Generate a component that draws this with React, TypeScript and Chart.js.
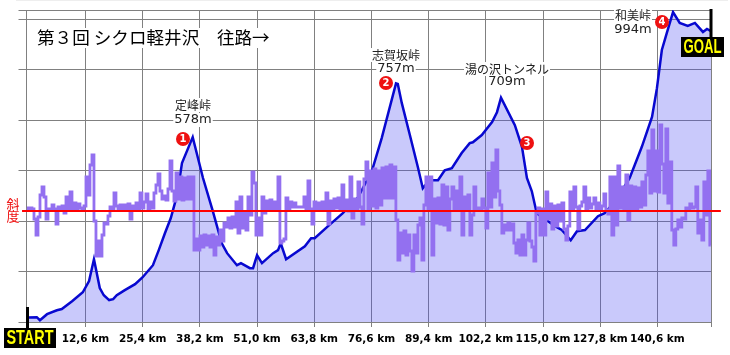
import React, { useEffect, useRef } from "react";
import { Chart, registerables } from "chart.js";

Chart.register(...registerables);

const title = "第３回 シクロ軽井沢　往路→";
const slopeAxisLabel = ["斜", "度"];
const kmTicks = [-0.6, 12.6, 25.4, 38.2, 51.0, 63.8, 76.6, 89.4, 102.2, 115.0, 127.8, 140.6, 152.6];
const kmMin = -0.6;
const kmMax = 152.6;

const elevationKm = [
  -0.3, 1.7, 2.4, 4.0, 6.2, 7.3, 9.6, 12.0, 13.4, 14.5, 15.8, 16.7, 17.9, 18.8, 19.6, 21.4, 23.7, 25.4, 27.7, 29.0,
  30.4, 31.7, 33.1, 34.2, 36.6, 38.9, 41.1, 43.1, 44.3, 46.5, 47.4, 49.4, 50.1, 51.0, 52.1, 54.6, 55.7, 56.3, 57.5,
  61.7, 63.1, 63.9, 66.9, 70.2, 73.6, 76.7, 78.9, 82.1, 82.5, 83.4, 85.2, 87.0, 88.1, 89.2, 90.4, 91.5, 93.0, 94.6,
  96.8, 98.6, 99.3, 101.3, 103.6, 104.7, 105.6, 108.7, 110.3, 111.4, 112.5, 113.6, 117.7, 119.2, 121.2, 122.6, 124.4,
  127.3, 128.8, 130.4, 132.6, 134.4, 137.1, 139.4, 140.5, 141.6, 142.7, 144.1, 145.6, 147.4, 149.0, 150.8, 151.7, 152.6,
];
const elevationM = [
  -22, -21, -31, -11, 2, 6, 32, 62, 99, 172, 76, 52, 36, 39, 52, 69, 89, 112, 152, 202,
  259, 309, 385, 492, 578, 442, 332, 225, 192, 152, 159, 142, 142, 185, 159, 192, 202, 225, 172,
  215, 242, 242, 282, 325, 378, 465, 575, 757, 755, 691, 585, 478, 408, 428, 435, 435, 468, 475,
  525, 558, 561, 585, 628, 661, 709, 618, 545, 442, 398, 325, 282, 269, 235, 265, 269,
  315, 325, 352, 398, 442, 545, 645, 741, 868, 924, 994, 958, 948, 958, 928, 938, 931,
];

const slopeStartKm = -0.49;
const slopeStepKm = 0.4475;
const slopePct = [
  0.3, 0.1, 0.3, 0.2, -0.8, -2.4, -0.6, 1.6, 2.4, 1.4,
  -0.8, 0.2, 0.1, 0.6, 0.2, -1.3, 0.4, 0.1, 0.5, -0.2,
  1.4, 0.1, 1.9, 0.2, 0.8, 0.1, 0.7, 0.3, 0.1, 0.5,
  3.4, 1.6, 4.6, 5.6, -1.0, -4.5, -3.0, -4.5, -2.4, -1.2,
  -1.3, -0.5, 0.4, 0.2, 1.8, 0.5, 0.1, 0.6, 0.1, 0.6,
  0.2, 0.7, -0.8, 0.5, 0.1, 0.8, 0.2, 1.8, 0.3, 0.9,
  1.7, 0.1, 0.9, 0.3, 1.8, 2.6, 3.7, 2.0, 1.2, 1.5,
  1.1, 2.2, 5.0, 2.0, 1.0, 3.8, 1.2, 3.4, 1.1, 3.3,
  1.2, 3.4, 1.2, 3.4, -3.9, -2.8, -3.9, -2.5, -3.6, -2.4,
  -3.4, -2.5, -3.6, -2.4, -4.4, -2.6, -3.4, -1.9, -3.0, -1.2,
  -1.6, -0.7, -1.7, -0.6, -1.6, 0.9, -2.2, 1.4, -1.7, -0.2,
  -1.9, 1.4, -0.4, 3.9, 2.8, -2.4, -0.7, -2.4, 1.4, -0.2,
  1.0, 0.1, 1.1, 0.2, 0.9, 0.1, 3.4, -3.2, -3.0, -2.8,
  1.3, 0.2, 0.9, 0.4, 0.8, 0.4, 0.4, 0.4, 0.4, 1.4,
  0.1, 3.0, 0.2, -1.3, 0.9, 0.1, 0.8, 0.1, 0.9, 0.2,
  1.8, -1.3, 1.0, 0.2, 1.2, 0.3, 1.3, 0.1, 2.6, 0.2,
  1.1, 0.0, 3.4, -0.7, 1.2, 0.1, 2.9, 0.4, -1.3, 3.2,
  4.9, 0.2, 4.0, 0.5, 4.2, 0.3, 4.0, 0.6, 4.3, 1.3,
  4.4, 1.3, 4.6, 1.3, 4.4, -0.9, -4.9, -2.2, -4.2, -2.0,
  -4.4, -2.4, -4.0, -6.0, -2.4, -4.2, -1.4, -0.7, -4.9, 0.6,
  3.4, 0.2, 3.4, -4.4, 1.2, -1.2, 1.3, -1.3, 2.6, -1.4,
  2.4, -1.9, 1.2, 2.4, 0.1, 2.0, 0.1, 3.4, -2.4, 1.4,
  0.2, 1.6, -2.4, -0.4, 2.4, 0.1, 0.3, 0.1, 1.2, 0.3,
  -1.7, 3.8, 0.4, 4.8, 1.4, 6.1, 2.0, 0.6, -2.2, -1.4,
  -1.9, -1.2, -1.9, -1.3, -3.2, -4.2, -2.9, -4.4, -2.4, -4.4,
  -2.9, -1.2, -3.0, -3.6, -5.0, -0.2, 0.3, -2.4, 0.2, -2.4,
  1.9, -0.8, 0.7, -1.8, 0.5, -1.5, 0.6, -1.0, 0.8, -1.8,
  -2.9, -1.5, 1.9, 0.1, 2.4, 0.4, -1.8, 0.5, 0.9, 2.4,
  0.2, 1.3, 0.3, 0.7, 1.3, 0.2, 0.8, 0.1, 0.5, 1.7,
  0.1, -0.3, 3.4, -2.4, 3.4, -1.4, 4.5, 0.3, 2.4, 0.1,
  3.6, -0.9, 2.5, 0.1, 2.4, 0.2, 2.3, 0.4, 2.9, 0.6,
  3.6, 6.0, 1.8, 8.1, 2.0, 6.0, 1.9, 8.6, 4.7, 1.8,
  8.2, 0.8, 4.9, -1.9, -3.4, -1.8, -0.9, -1.6, -0.7, -0.8,
  0.3, 0.1, 0.7, 0.3, 0.4, 2.4, -2.2, -0.9, -2.9, 2.9,
  -0.4, 4.0, -3.4,
];

const passNames = ["定峰峠", "志賀坂峠", "湯の沢トンネル", "和美峠"];
const passHeights = ["578m", "757m", "709m", "994m"];
const passNumbers = ["1", "2", "3", "4"];

const SANS = '"Noto Sans CJK JP", sans-serif';
const LATIN = '"DejaVu Sans", sans-serif';
const HEAVY = '"Liberation Sans", sans-serif';

const passLayout = [
  { cx: 193, nameY: 105, heightY: 120, cirX: 183, cirY: 139 },
  { cx: 396, nameY: 55, heightY: 69, cirX: 386, cirY: 83 },
  { cx: 507, nameY: 69, heightY: 82, cirX: 527, cirY: 143 },
  { cx: 633, nameY: 15, heightY: 30, cirX: 662, cirY: 22 },
];

const decorations = {
  id: "decorations",
  afterDatasetsDraw(chart: any) {
    const c = chart.ctx as CanvasRenderingContext2D;
    const { x } = chart.scales;
    c.save();
    c.textBaseline = "middle";
    c.textAlign = "left";

    c.fillStyle = "#eeeeee";
    c.fillRect(16, 0, 712, 1);

    c.fillStyle = "#ffffff";
    c.fillRect(35, 28, 241, 20);
    c.fillStyle = "#000000";
    c.font = `17.6px ${SANS}`;
    c.fillText(title, 37, 37);

    c.fillStyle = "#ee1111";
    c.font = `13px ${SANS}`;
    c.textAlign = "center";
    c.fillText(slopeAxisLabel[0], 13, 204);
    c.fillText(slopeAxisLabel[1], 13, 216);

    passLayout.forEach((p, i) => {
      c.font = `12px ${SANS}`;
      const w1 = c.measureText(passNames[i]).width;
      c.fillStyle = "#ffffff";
      c.fillRect(p.cx - w1 / 2 - 1, p.nameY - 7, w1 + 2, 14);
      c.fillStyle = "#222222";
      c.fillText(passNames[i], p.cx, p.nameY);
      c.font = `13px ${LATIN}`;
      const w2 = c.measureText(passHeights[i]).width;
      c.fillStyle = "#ffffff";
      c.fillRect(p.cx - w2 / 2 - 1, p.heightY - 7, w2 + 2, 14);
      c.fillStyle = "#222222";
      c.fillText(passHeights[i], p.cx, p.heightY);
      c.beginPath();
      c.arc(p.cirX, p.cirY, 7, 0, Math.PI * 2);
      c.fillStyle = "#ee1111";
      c.fill();
      c.fillStyle = "#ffffff";
      c.font = `bold 10px ${LATIN}`;
      c.fillText(passNumbers[i], p.cirX, p.cirY + 0.5);
    });

    const sx = x.getPixelForValue(kmMin);
    const gx = x.getPixelForValue(kmMax);
    c.fillStyle = "#000000";
    c.fillRect(sx - 0.5, 307, 3, 21);
    c.fillRect(gx - 1.5, 9, 3, 28);
    c.fillRect(4, 328, 52, 20);
    c.fillRect(681, 37, 43, 20);
    c.fillStyle = "#ffff00";
    c.font = `bold 20px ${HEAVY}`;
    c.fillText("START", 30, 338.5, 47);
    c.fillText("GOAL", 702.5, 47.5, 38);
    c.restore();
  },
};

export default function App() {
  const ref = useRef<HTMLCanvasElement | null>(null);
  useEffect(() => {
    const chart = new Chart(ref.current as HTMLCanvasElement, {
      type: "line",
      data: {
        datasets: [
          {
            label: "標高",
            data: elevationKm.map((k, i) => ({ x: k, y: elevationM[i] })),
            borderColor: "#0808d0",
            borderWidth: 2.5,
            backgroundColor: "rgba(75,75,241,0.3)",
            fill: "start",
            pointRadius: 0,
            tension: 0,
            yAxisID: "y",
            order: 3,
          },
          {
            label: "斜度",
            data: slopePct.map((v, i) => ({ x: slopeStartKm + i * slopeStepKm, y: v })),
            borderColor: "#9370f0",
            borderWidth: 2.8,
            borderJoinStyle: "miter",
            fill: false,
            pointRadius: 0,
            stepped: "middle",
            yAxisID: "slope",
            order: 2,
          },
          {
            label: "0",
            data: [
              { x: -1.6, y: 0 },
              { x: 154.8, y: 0 },
            ],
            borderColor: "#ff0000",
            borderWidth: 2,
            fill: false,
            pointRadius: 0,
            yAxisID: "slope",
            clip: false,
            order: 1,
          },
        ] as any,
      },
      options: {
        responsive: false,
        animation: false,
        layout: { padding: { left: 18.5, right: 19, top: 10, bottom: 0 } },
        plugins: { legend: { display: false }, tooltip: { enabled: false }, title: { display: false } },
        scales: {
          x: {
            type: "linear",
            min: kmMin,
            max: kmMax,
            afterBuildTicks: (s: any) => {
              s.ticks = kmTicks.map((v) => ({ value: v }));
            },
            afterFit: (s: any) => {
              s.height = 33;
            },
            border: { display: false },
            grid: { color: "#808080", lineWidth: 1, tickLength: 5 },
            ticks: {
              autoSkip: false,
              maxRotation: 0,
              color: "#000000",
              padding: 6,
              font: { family: "DejaVu Sans", size: 10.5, weight: "bold" },
              callback: (v: any) =>
                v === kmMin || v === kmMax ? "" : `${Number(v).toFixed(1).replace(".", ",")} km`,
            },
          },
          y: {
            min: -37,
            max: 1001,
            afterBuildTicks: (s: any) => {
              s.ticks = [-37, 131, 299, 467, 635, 803, 971, 1001].map((v) => ({ value: v }));
            },
            afterFit: (s: any) => {
              s.width = 8;
            },
            border: { display: false },
            grid: { color: "#808080", lineWidth: 1, tickLength: 8 },
            ticks: { display: false },
          },
          slope: {
            display: false,
            min: -11.1,
            max: 20.1,
          },
        },
      } as any,
      plugins: [decorations] as any,
    });
    return () => chart.destroy();
  }, []);
  return (
    <canvas
      ref={ref}
      width={730}
      height={355}
      style={{ position: "fixed", left: 0, top: 0, width: 730, height: 355, background: "#ffffff" }}
    />
  );
}
